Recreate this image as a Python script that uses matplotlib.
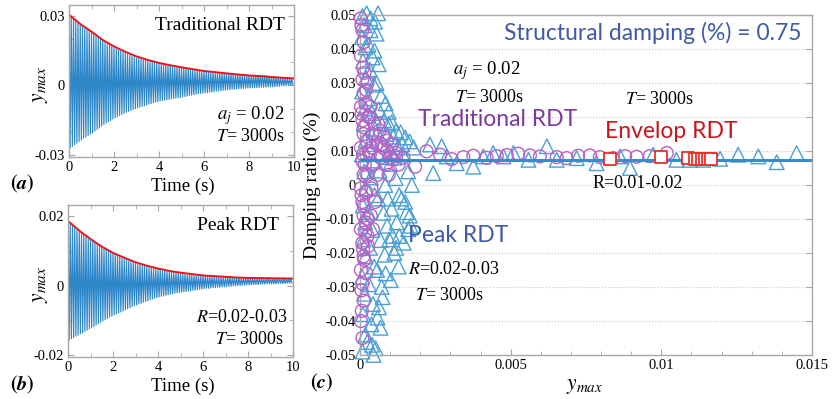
import numpy as np
import matplotlib
matplotlib.use('Agg')
import matplotlib.pyplot as plt
from matplotlib.ticker import FixedLocator, MultipleLocator, FuncFormatter

plt.rcParams['font.family'] = ['Liberation Serif', 'DejaVu Serif']
plt.rcParams['mathtext.fontset'] = 'stix'

W, H = 833, 399

# ---------------- data ----------------
cycle_period = 0.1          # s, one oscillation cycle in panels (a), (b)
amp_unit = 1e-4             # peak lists below are in units of 1e-4

# panel (a): per-cycle positive peaks / negative troughs
a_upper = [300, 292, 284, 276, 268, 261, 254, 247, 240, 233,
           227, 220, 212, 205, 198, 192, 185, 179, 173, 168,
           162, 157, 152, 148, 143, 139, 135, 130, 127, 123,
           119, 116, 113, 111, 108, 105, 103, 100, 98, 95,
           93, 91, 89, 88, 86, 84, 82, 80, 79, 77,
           76, 74, 72, 70, 68, 66, 64, 63, 61, 59,
           58, 57, 56, 55, 55, 54, 53, 52, 51, 51,
           50, 49, 48, 47, 46, 45, 44, 43, 43, 42,
           41, 41, 41, 42, 43, 44, 44, 43, 41, 39,
           37, 36, 35, 34, 33, 32, 31, 30, 29, 28]
a_lower = [-270, -263, -256, -249, -242, -235, -228, -222, -216, -210,
           -205, -197, -190, -183, -176, -169, -163, -157, -151, -145,
           -140, -135, -130, -125, -121, -116, -112, -108, -104, -100,
           -97, -93, -90, -87, -84, -81, -78, -75, -72, -70,
           -67, -65, -63, -62, -60, -58, -56, -55, -53, -52,
           -50, -48, -46, -44, -42, -40, -38, -36, -35, -33,
           -32, -31, -29, -28, -27, -25, -24, -23, -21, -20,
           -19, -18, -17, -16, -15, -14, -14, -13, -12, -11,
           -11, -10, -10, -9, -9, -8, -8, -7, -7, -6,
           -6, -5, -4, -3, -2, -1, 0, 0, 1, 2]

# panel (b)
b_upper = [183, 177, 171, 165, 160, 155, 150, 145, 140, 135,
           131, 126, 122, 118, 114, 110, 106, 102, 99, 95,
           92, 89, 86, 83, 80, 77, 74, 71, 69, 66,
           64, 62, 60, 58, 56, 54, 52, 50, 49, 47,
           46, 45, 43, 42, 41, 39, 38, 37, 36, 35,
           34, 33, 32, 31, 31, 30, 29, 29, 28, 27,
           27, 27, 26, 26, 25, 25, 24, 24, 23, 23,
           23, 23, 23, 22, 22, 22, 22, 21, 21, 21,
           21, 21, 21, 21, 20, 20, 20, 20, 20, 20,
           20, 20, 20, 20, 19, 19, 19, 19, 19, 19]
b_lower = [-157, -153, -150, -146, -143, -139, -136, -132, -129, -125,
           -122, -118, -114, -110, -106, -102, -98, -95, -91, -88,
           -85, -82, -79, -76, -73, -70, -67, -64, -61, -58,
           -56, -53, -51, -48, -46, -44, -41, -39, -37, -35,
           -33, -31, -30, -28, -27, -25, -24, -22, -21, -20,
           -19, -18, -17, -16, -15, -14, -13, -12, -11, -10,
           -9, -8, -8, -7, -6, -6, -5, -5, -4, -4,
           -3, -2, -2, -1, -1, 0, 0, 1, 1, 2,
           2, 2, 3, 3, 3, 4, 4, 4, 5, 5,
           5, 5, 5, 6, 6, 6, 6, 7, 7, 7]

# red fitted envelopes
env_t = [0, 0.5, 1, 1.5, 2, 2.5, 3, 3.5, 4, 4.5, 5,
         5.5, 6, 6.5, 7, 7.5, 8, 8.5, 9, 9.5, 10]
a_env = [305, 265, 232, 196, 168, 145, 125, 110, 97, 87, 78,
         70, 62, 57, 52, 47, 43, 40, 36, 33, 30]
b_env = [186, 158, 134, 112, 94, 80, 67, 57, 49, 42, 37,
         33, 29, 27, 25, 23, 22, 21.5, 21, 20.5, 20]

# panel (c): damping ratio vs y_max
trad_x = [0.00003, 0.00008, 0.00012, 0.00003, 0.00008, 0.00012, 0.00003, 0.00008,
          0.00012, 0.00003, 0.00008, 0.00012, 0.00003, 0.00008, 0.00012, 0.00003,
          0.00008, 0.00012, 0.00003, 0.00008, 0.00012, 0.00003, 0.00008,
          0.00015, 0.00025, 0.00018, 0.00028, 0.00012, 0.00022, 0.00030, 0.00016,
          0.00026, 0.00020, 0.00013, 0.00024, 0.00017, 0.00027, 0.00014, 0.00021,
          0.00035, 0.00048, 0.00040, 0.00055, 0.00033, 0.00045, 0.00058, 0.00038,
          0.00050, 0.00036, 0.00043,
          0.00065, 0.00080, 0.00072, 0.00090, 0.00068, 0.00085, 0.00095,
          0.00105, 0.00118, 0.00110, 0.00128,
          0.00005, 0.00010, 0.00005, 0.00010, 0.00005, 0.00010, 0.00005, 0.00006,
          0.00020, 0.00032, 0.00040, 0.00060, 0.00075, 0.00090, 0.00100, 0.00120,
          0.00025, 0.00018,
          0.00144, 0.00183, 0.00221, 0.00266, 0.00304, 0.00343, 0.00376, 0.00420,
          0.00454, 0.00487, 0.00525, 0.00564, 0.00597, 0.00653, 0.00686, 0.00724,
          0.00763, 0.00796, 0.00840, 0.00880, 0.00918, 0.00962, 0.01018]
trad_y = [0.0490, 0.0455, 0.0420, 0.0380, 0.0310, 0.0270, 0.0230, 0.0190,
          0.0150, 0.0110, 0.0070, 0.0030, -0.0010, -0.0050, -0.0090, -0.0130,
          -0.0170, -0.0210, -0.0250, -0.0290, -0.0340, -0.0400, -0.0450,
          0.0330, 0.0300, 0.0240, 0.0200, 0.0170, 0.0130, 0.0100, 0.0060,
          0.0030, -0.0020, -0.0060, -0.0100, -0.0140, -0.0180, -0.0220, -0.0260,
          0.0230, 0.0180, 0.0150, 0.0120, 0.0090, 0.0060, 0.0030, -0.0010,
          -0.0050, -0.0090, -0.0130,
          0.0160, 0.0140, 0.0120, 0.0100, 0.0080, 0.0060, 0.0030,
          0.0120, 0.0095, 0.0075, 0.0060,
          0.0470, 0.0345, 0.0210, 0.0090, -0.0030, -0.0190, -0.0310, -0.0370,
          0.0280, 0.0200, 0.0110, 0.0180, 0.0110, 0.0130, 0.0080, 0.0085,
          -0.0150, -0.0110,
          0.0080, 0.0054, 0.0099, 0.0089, 0.0076, 0.0082, 0.0086, 0.0080,
          0.0085, 0.0088, 0.0092, 0.0087, 0.0084, 0.0082, 0.0079, 0.0086,
          0.0087, 0.0082, 0.0079, 0.0085, 0.0083, 0.0085, 0.0094]

peak_x = [0.00008, 0.00015, 0.00006, 0.00018, 0.00010, 0.00020, 0.00007, 0.00016,
          0.00012, 0.00019, 0.00006, 0.00014, 0.00020, 0.00009, 0.00017, 0.00011,
          0.00019, 0.00007, 0.00015, 0.00010, 0.00018, 0.00008,
          0.00022, 0.00060, 0.00035, 0.00028, 0.00042, 0.00032, 0.00046, 0.00026,
          0.00040, 0.00050, 0.00030, 0.00044, 0.00036, 0.00048, 0.00027, 0.00041,
          0.00033, 0.00047, 0.00029, 0.00043, 0.00038, 0.00024, 0.00045,
          0.00055, 0.00070, 0.00062, 0.00080, 0.00058, 0.00075, 0.00088, 0.00065,
          0.00084, 0.00060, 0.00078, 0.00090, 0.00068, 0.00082, 0.00057, 0.00072,
          0.00063, 0.00052,
          0.00095, 0.00110, 0.00125, 0.00100, 0.00118, 0.00130, 0.00105, 0.00122,
          0.00097, 0.00114, 0.00128, 0.00102,
          0.00135, 0.00150, 0.00165, 0.00178, 0.00142, 0.00160, 0.00172, 0.00138,
          0.00155, 0.00168, 0.00145,
          0.00055, 0.00048, 0.00062, 0.00085, 0.00095, 0.00105, 0.00120, 0.00088,
          0.00100, 0.00115, 0.00140, 0.00092, 0.00108, 0.00120, 0.00085, 0.00075,
          0.00058, 0.00068, 0.00040, 0.00150, 0.00165, 0.00160, 0.00130, 0.00035,
          0.00050,
          0.00232, 0.00243, 0.00271, 0.00288, 0.00321, 0.00376, 0.00409, 0.00442,
          0.00476, 0.00509, 0.00559, 0.00620, 0.00653, 0.00719, 0.00785, 0.00863,
          0.00896, 0.00973, 0.01050, 0.01095, 0.01139, 0.01195, 0.01255, 0.01322,
          0.01383, 0.01449]
peak_y = [0.0497, 0.0470, 0.0435, 0.0405, 0.0365, 0.0315, 0.0275, 0.0225,
          0.0180, 0.0132, 0.0090, 0.0040, -0.0010, -0.0060, -0.0110, -0.0160,
          -0.0210, -0.0270, -0.0320, -0.0380, -0.0440, -0.0490,
          0.0505, 0.0505, 0.0455, 0.0412, 0.0375, 0.0340, 0.0295, 0.0255,
          0.0212, 0.0165, 0.0120, 0.0072, 0.0022, -0.0030, -0.0080, -0.0132,
          -0.0185, -0.0240, -0.0292, -0.0350, -0.0410, -0.0462, -0.0500,
          0.0300, 0.0262, 0.0222, 0.0190, 0.0152, 0.0120, 0.0082, 0.0042,
          0.0000, -0.0040, -0.0082, -0.0120, -0.0162, -0.0205, -0.0250, -0.0300,
          -0.0360, -0.0480,
          0.0180, 0.0142, 0.0110, 0.0062, 0.0020, -0.0030, -0.0070, -0.0110,
          -0.0160, -0.0200, -0.0240, -0.0280,
          0.0155, 0.0140, 0.0128, 0.0110, 0.0090, 0.0040, 0.0000, -0.0040,
          -0.0080, -0.0120, -0.0170,
          0.0445, 0.0395, 0.0355, 0.0240, 0.0215, 0.0185, 0.0160, 0.0150,
          0.0100, 0.0080, 0.0120, -0.0040, -0.0150, -0.0185, -0.0260, -0.0330,
          -0.0390, -0.0420, -0.0470, -0.0050, -0.0090, -0.0130, -0.0150, 0.0490,
          0.0480,
          0.0119, 0.0035, 0.0114, 0.0084, 0.0064, 0.0054, 0.0084, 0.0094,
          0.0084, 0.0094, 0.0074, 0.0114, 0.0074, 0.0079, 0.0064, 0.0084,
          0.0050, 0.0089, 0.0074, 0.0074, 0.0074, 0.0077, 0.0089, 0.0084,
          0.0067, 0.0094]

envrdt_x = [0.00830, 0.00999, 0.01090, 0.01112, 0.01123, 0.01134, 0.01145, 0.01156, 0.01165]
envrdt_y = [0.0076, 0.0082, 0.0079, 0.0077, 0.0077, 0.0077, 0.0077, 0.0077, 0.0077]

struct_damping = 0.0075

# ---------------- figure ----------------
fig = plt.figure(figsize=(W / 100, H / 100), dpi=100)


def box(l, t, r, b):
    return [l / W, 1 - b / H, (r - l) / W, (b - t) / H]


def ftext(x, y, s, **kw):
    fig.text(x / W, 1 - y / H, s, **kw)


spine_c = '#A8A8A8'
sig_c = '#2C86C8'
red_c = '#E8141B'


def style(ax):
    for s in ax.spines.values():
        s.set_color(spine_c)
        s.set_linewidth(1.0)
    ax.tick_params(which='both', direction='in', top=True, right=True,
                   color=spine_c, labelsize=10.5, pad=3)
    ax.tick_params(which='major', length=4)
    ax.tick_params(which='minor', length=3)


def signal(ax, upper, lower, env):
    n = len(upper)
    t = np.empty(2 * n)
    y = np.empty(2 * n)
    t[0::2] = np.arange(n) * cycle_period
    t[1::2] = np.arange(n) * cycle_period + cycle_period / 2
    y[0::2] = np.asarray(upper) * amp_unit
    y[1::2] = np.asarray(lower) * amp_unit
    ax.plot(t, y, color=sig_c, lw=0.85)
    ax.plot(env_t, np.asarray(env) * amp_unit, color=red_c, lw=1.4)
    ax.set_xlim(0, 10)
    ax.xaxis.set_major_locator(MultipleLocator(2))
    ax.xaxis.set_minor_locator(MultipleLocator(1))


fmt = FuncFormatter(lambda v, p: ('%g' % (round(v, 4) + 0.0)))

# panel (a)
axa = fig.add_axes(box(69, 5, 294, 157))
signal(axa, a_upper, a_lower, a_env)
axa.set_ylim(-0.0309, 0.0347)
axa.yaxis.set_major_locator(FixedLocator([-0.03, 0, 0.03]))
axa.yaxis.set_minor_locator(FixedLocator([-0.02, -0.01, 0.01, 0.02]))
axa.yaxis.set_major_formatter(fmt)
style(axa)

# panel (b)
axb = fig.add_axes(box(68, 205, 293, 357))
signal(axb, b_upper, b_lower, b_env)
axb.set_ylim(-0.0206, 0.0232)
axb.yaxis.set_major_locator(FixedLocator([-0.02, 0, 0.02]))
axb.yaxis.set_minor_locator(FixedLocator([-0.01, 0.01]))
axb.yaxis.set_major_formatter(fmt)
style(axb)

# panel (c)
axc = fig.add_axes(box(360, 15, 812, 355))
axc.scatter(peak_x, peak_y, s=110, marker='^', facecolors='none',
            edgecolors='#4AA0D5', linewidths=1.0, clip_on=False, zorder=2)
axc.scatter(trad_x, trad_y, s=85, marker='o', facecolors='none',
            edgecolors='#B662C8', linewidths=1.0, clip_on=False, zorder=3)
axc.axhline(struct_damping, color='#3A8CC8', lw=2.2, zorder=4)
axc.scatter(envrdt_x, envrdt_y, s=75, marker='s', facecolors='white',
            edgecolors='#E8302A', linewidths=1.3, zorder=5)
axc.set_xlim(0, 0.015)
axc.set_ylim(-0.05, 0.05)
axc.xaxis.set_major_locator(FixedLocator([0, 0.005, 0.01, 0.015]))
axc.xaxis.set_minor_locator(MultipleLocator(0.001))
axc.yaxis.set_major_locator(MultipleLocator(0.01))
axc.xaxis.set_major_formatter(fmt)
axc.yaxis.set_major_formatter(fmt)
axc.grid(axis='y', which='major', color='#C8C8C8', ls=':', lw=0.8)
axc.set_axisbelow(True)
style(axc)
axc.tick_params(which='both', top=False)

# ---------------- texts ----------------
# (a)
ftext(285, 25, 'Traditional RDT', ha='right', va='center', fontsize=14)
ftext(285, 116, r'$a_j$ = 0.02', ha='right', va='center', fontsize=13.5)
ftext(285, 137, r'$T$= 3000s', ha='right', va='center', fontsize=13)
ftext(40, 84, r'$y_{max}$', ha='center', va='center', rotation=90, fontsize=15.5)
ftext(183, 186, 'Time (s)', ha='center', va='center', fontsize=13.5)
ftext(22, 184, r'$\mathbf{(}\boldsymbol{a}\mathbf{)}$', ha='center', va='center', fontsize=14.5)
# (b)
ftext(279, 225, 'Peak RDT', ha='right', va='center', fontsize=14)
ftext(288, 317, r'$R$=0.02-0.03', ha='right', va='center', fontsize=13)
ftext(284, 340, r'$T$= 3000s', ha='right', va='center', fontsize=13)
ftext(40, 284, r'$y_{max}$', ha='center', va='center', rotation=90, fontsize=15.5)
ftext(183, 386, 'Time (s)', ha='center', va='center', fontsize=13.5)
ftext(22, 385, r'$\mathbf{(}\boldsymbol{b}\mathbf{)}$', ha='center', va='center', fontsize=14.5)
# (c)
sans = ['Lato', 'DejaVu Sans']
ftext(802, 33, 'Structural damping (%) = 0.75', ha='right', va='center',
      fontsize=16.5, color='#3F5AA6', family=sans)
ftext(418, 120, 'Traditional RDT', ha='left', va='center', fontsize=16.5,
      color='#7B3A9E', family=sans)
ftext(605, 132, 'Envelop RDT', ha='left', va='center', fontsize=16.5,
      color='#C8141B', family=sans)
ftext(408, 235, 'Peak RDT', ha='left', va='center', fontsize=16.5,
      color='#3F5AA6', family=sans)
ftext(453, 71, r'$a_j$ = 0.02', ha='left', va='center', fontsize=13.5)
ftext(455, 97, r'$T$= 3000s', ha='left', va='center', fontsize=13)
ftext(625, 100, r'$T$= 3000s', ha='left', va='center', fontsize=13)
ftext(593, 183, 'R=0.01-0.02', ha='left', va='center', fontsize=13)
ftext(408, 270, r'$R$=0.02-0.03', ha='left', va='center', fontsize=13)
ftext(415, 295, r'$T$= 3000s', ha='left', va='center', fontsize=13)
ftext(312, 185, 'Damping ratio (%)', ha='center', va='center', rotation=90, fontsize=14)
ftext(585, 386, r'$y_{max}$', ha='center', va='center', fontsize=15.5)
ftext(322, 383, r'$\mathbf{(}\boldsymbol{c}\mathbf{)}$', ha='center', va='center', fontsize=14.5)

fig.savefig('out.png', dpi=100)
